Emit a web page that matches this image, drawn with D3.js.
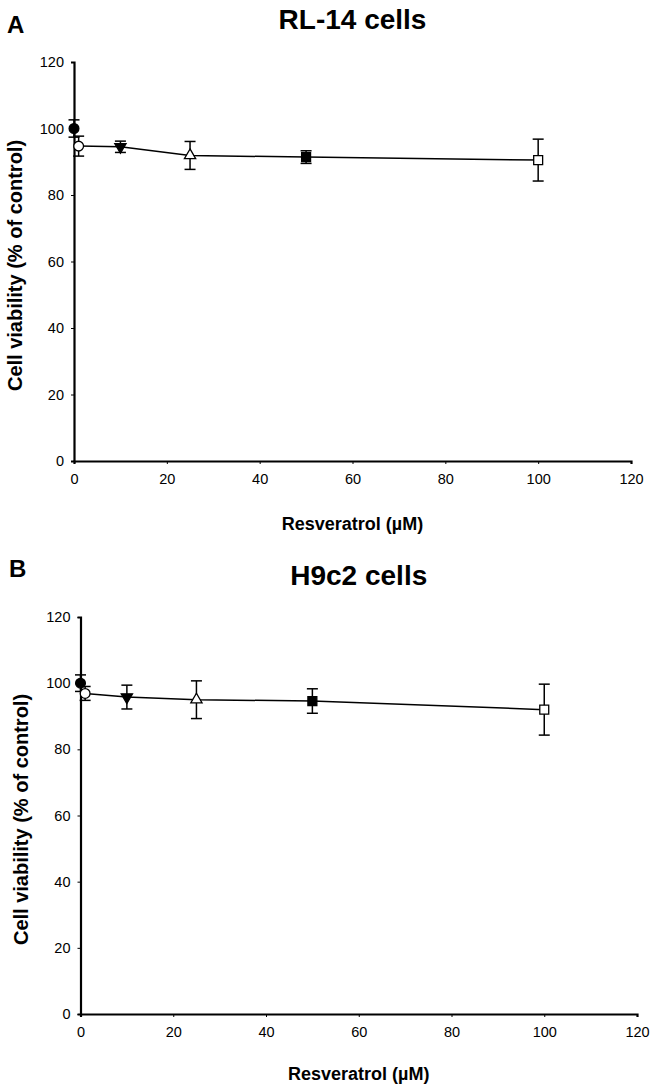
<!DOCTYPE html>
<html>
<head>
<meta charset="utf-8">
<script src="https://cdnjs.cloudflare.com/ajax/libs/d3/7.8.5/d3.min.js"></script>
<style>
  html, body { margin: 0; padding: 0; background: #fff; }
  svg { display: block; }
  text { font-family: "Liberation Sans", Arial, sans-serif; fill: #000; }
</style>
</head>
<body>
<script>
// ---- Data ----
const concentrations = [0, 1, 10, 25, 50, 100];            // Resveratrol (µM)
const rl14Mean = [100, 94.7, 94.5, 91.9, 91.4, 90.5];      // % of control
const rl14Err  = [2.6, 3.0, 1.7, 4.2, 1.9, 6.3];
const h9c2Mean = [100, 96.9, 95.8, 95.0, 94.6, 92.0];
const h9c2Err  = [2.5, 2.1, 3.6, 5.7, 3.7, 7.7];
const xTicks = [0, 20, 40, 60, 80, 100, 120];
const yTicks = [0, 20, 40, 60, 80, 100, 120];
const markerShapes = ["circle", "circle", "triangleDown", "triangle", "square", "square"];
const markerFilled = [true, false, true, false, true, false];
const panelLetters = ["A", "B"];
const panelTitles = ["RL-14 cells", "H9c2 cells"];
const xLabel = "Resveratrol (\u00B5M)";
const yLabel = "Cell viability (% of control)";

// ---- Layout ----
const W = 650, H = 1084;
const svg = d3.select("body").append("svg").attr("width", W).attr("height", H);

const panels = [
  { letter: panelLetters[0], title: panelTitles[0], mean: rl14Mean, err: rl14Err,
    left: 74, right: 631, top: 62, bottom: 461,
    letterX: 7, letterY: 33, titleY: 29, xLabY: 530, yLabX: 22 },
  { letter: panelLetters[1], title: panelTitles[1], mean: h9c2Mean, err: h9c2Err,
    left: 80.5, right: 637, top: 617, bottom: 1014,
    letterX: 9, letterY: 577, titleY: 585, xLabY: 1080, yLabX: 28 }
];

const symbolTypes = {
  circle: d3.symbolCircle, triangle: d3.symbolTriangle,
  triangleDown: d3.symbolTriangle, square: d3.symbolSquare
};
const symbolSizes = { circle: 75, triangle: 55, triangleDown: 55, square: 80 };

panels.forEach(p => {
  const x = d3.scaleLinear().domain([0, 120]).range([p.left, p.right]);
  const y = d3.scaleLinear().domain([0, 120]).range([p.bottom, p.top]);
  const g = svg.append("g");
  const cx0 = (p.left + p.right) / 2;

  // letter & title
  g.append("text").attr("x", p.letterX).attr("y", p.letterY)
    .attr("font-size", 24).attr("font-weight", "bold").text(p.letter);
  g.append("text").attr("x", cx0).attr("y", p.titleY)
    .attr("text-anchor", "middle").attr("font-size", 28).attr("font-weight", "bold")
    .text(p.title);

  // axes
  const xAxis = d3.axisBottom(x).tickValues(xTicks).tickSizeOuter(0).tickSize(3).tickPadding(5);
  const yAxis = d3.axisLeft(y).tickValues(yTicks).tickSizeOuter(0).tickSize(3).tickPadding(7);
  const gx = g.append("g").attr("transform", `translate(0,${p.bottom})`).call(xAxis);
  const gy = g.append("g").attr("transform", `translate(${p.left},0)`).call(yAxis);
  [gx, gy].forEach(ax => {
    ax.select(".domain").attr("stroke", "#000").attr("stroke-width", 2.2);
    ax.selectAll(".tick line").attr("stroke", "#000").attr("stroke-width", 1);
    ax.selectAll(".tick text").attr("font-size", 14.5)
      .attr("font-family", "'Liberation Sans', Arial, sans-serif").attr("fill", "#000");
  });
  gx.selectAll(".tick text").attr("y", 23).attr("dy", 0);

  // axis labels
  g.append("text").attr("x", cx0).attr("y", p.xLabY)
    .attr("text-anchor", "middle").attr("font-size", 18).attr("font-weight", "bold")
    .text(xLabel);
  g.append("text")
    .attr("transform", `translate(${p.yLabX},${(p.top + p.bottom) / 2 + 4}) rotate(-90)`)
    .attr("text-anchor", "middle").attr("font-size", 20).attr("font-weight", "bold")
    .text(yLabel);

  const pts = concentrations.map((c, i) => ({ c, m: p.mean[i], e: p.err[i], i }));

  // error bars
  const eb = g.append("g").attr("stroke", "#000").attr("stroke-width", 1.5).attr("fill", "none");
  pts.forEach(d => {
    const cx = x(d.c), y1 = y(d.m + d.e), y2 = y(d.m - d.e);
    eb.append("line").attr("x1", cx).attr("x2", cx).attr("y1", y1).attr("y2", y2);
    eb.append("line").attr("x1", cx - 5.5).attr("x2", cx + 5.5).attr("y1", y1).attr("y2", y1);
    eb.append("line").attr("x1", cx - 5.5).attr("x2", cx + 5.5).attr("y1", y2).attr("y2", y2);
  });

  // connecting line (treated points)
  const line = d3.line().x(d => x(d.c)).y(d => y(d.m));
  g.append("path").datum(pts.slice(1)).attr("d", line)
    .attr("fill", "none").attr("stroke", "#000").attr("stroke-width", 1.5);

  // markers
  pts.forEach(d => {
    const shape = markerShapes[d.i];
    const sym = d3.symbol().type(symbolTypes[shape]).size(symbolSizes[shape]);
    const rot = shape === "triangleDown" ? " rotate(180)" : "";
    g.append("path").attr("d", sym())
      .attr("transform", `translate(${x(d.c)},${y(d.m)})${rot}`)
      .attr("fill", markerFilled[d.i] ? "#000" : "#fff")
      .attr("stroke", "#000").attr("stroke-width", 1.3);
  });
});
</script>
</body>
</html>
